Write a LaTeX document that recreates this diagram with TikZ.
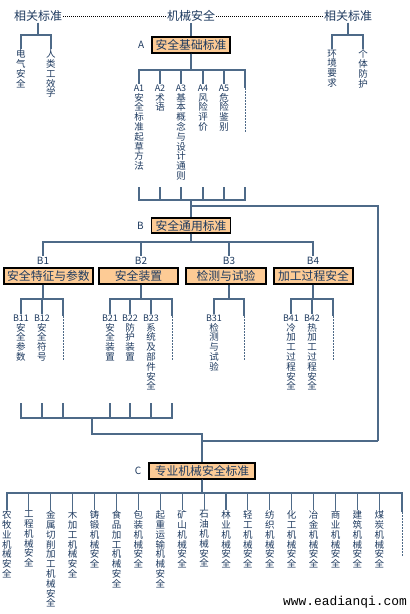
\documentclass[tikz,border=0pt]{standalone}
\usepackage{fontspec}
\setmainfont{Noto Sans CJK SC}
\newfontfamily\urlfont{Liberation Mono}
\usetikzlibrary{positioning}

\definecolor{ink}{HTML}{1E3A5F}
\definecolor{wirecol}{HTML}{4E6A88}
\definecolor{peach}{HTML}{FDCB95}

\ExplSyntaxOn
\NewDocumentCommand\vcol{om}{
  \vbox{
    \baselineskip=9.8pt \lineskiplimit=-10pt \lineskip=0pt
    \IfValueT{#1}{\hbox_to_wd:nn{2em}{\hss\fontsize{9}{9}\selectfont #1\hss}}
    \exp_args:Ne \tl_map_inline:nn {#2} {\hbox_to_wd:nn{2em}{\hss##1\hss}}
  }
}
\ExplSyntaxOff

\begin{document}
\begin{tikzpicture}[x=1pt, y=-1pt]

		\tikzset{
			topname/.style={
					text=ink, inner sep=1pt, font=\fontsize{12}{12}\selectfont
				},
			stdbox/.style={
					draw=black, fill=peach, line width=1.2pt, inner sep=0pt, minimum height=16pt, text=ink, font=\fontsize{11.8}{12}\selectfont
				},
			grouptag/.style={
					text=ink, inner sep=1pt, font=\fontsize{10}{10}\selectfont
				},
			col/.style={
					anchor=north, inner sep=0.5pt, text=ink, font=\fontsize{9.5}{9.8}\selectfont
				},
			link/.style={draw=wirecol, line width=1.1pt},
			dashline/.style={draw=wirecol, line width=1pt, dash pattern=on 1.5pt off 1.5pt},
			dotline/.style={draw=black, line width=1pt, dash pattern=on 1pt off 1pt},
		}

		\fill[white] (0,0) rectangle (410,614);
		\useasboundingbox (0,0) rectangle (410,614);

		\node[topname](relL) at (38,16){相关标准};
		\node[topname](top) at (191,16){机械安全};
		\node[topname](relR) at (348,16){相关标准};

		\draw[dotline] (relL.east)--(top.west);
		\draw[dotline] (top.east)--(relR.west);

		\node[col](elec) at (21,49){\vcol{电气安全}};
		\node[col](ergo) at (51,49){\vcol{人类工效学}};
		\node[col](env) at (332,49){\vcol{环境要求}};
		\node[col](ppe) at (363,49){\vcol{个体防护}};

		\foreach \c in {elec,ergo}
			\draw[link] (relL.south)--(relL.south |- 0,35) -| (\c.north);
		\foreach \c in {env,ppe}
			\draw[link] (relR.south)--(relR.south |- 0,35) -| (\c.north);

		\node[stdbox, minimum width=78pt](boxA) at (191,45){安全基础标准};
		\node[grouptag, left=6pt of boxA](tagA){A};
		\draw[link] (top.south)--(boxA.north);

		\node[col](a1) at (139,84){\vcol[A1]{安全标准起草方法}};
		\node[col](a2) at (160,84){\vcol[A2]{术语}};
		\node[col](a3) at (181,84){\vcol[A3]{基本概念与设计通则}};
		\node[col](a4) at (203,84){\vcol[A4]{风险评价}};
		\node[col](a5) at (224,84){\vcol[A5]{危险鉴别}};
		\coordinate (aend) at (245,88);

		\foreach \c in {a1.north,a2.north,a3.north,a4.north,a5.north,aend}
			\draw[link] (boxA.south)--(boxA.south |- 0,70) -| (\c);
		\draw[dashline] (aend)--++(0,44);

		\node[stdbox, minimum width=79pt, minimum height=15pt](boxB) at (191,225.5){安全通用标准};
		\node[grouptag, left=6pt of boxB](tagB){B};

		\foreach \c in {a1.north,a2.north,a3.north,a4.north,a5.north,aend}
			\draw[link] (\c |- 0,187) |- (boxB.north |- 0,200);
		\draw[link] (boxB.north |- 0,200)--(boxB.north);

		\coordinate (ring) at (378,441);
		\draw[link] (boxB.north |- 0,206) -| (ring);

		\node[grouptag](b1tag) at (43,261){B1};
		\node[grouptag](b2tag) at (141,261){B2};
		\node[grouptag](b3tag) at (229,261){B3};
		\node[grouptag](b4tag) at (313,261){B4};

		\foreach \c in {b1tag,b2tag,b3tag,b4tag}
			\draw[link] (boxB.south)--(boxB.south |- 0,242) -| (\c.north);

		\node[stdbox, minimum width=89pt](b1box) at (48.5,276){安全特征与参数};
		\node[stdbox, minimum width=79pt](b2box) at (138.5,276){安全装置};
		\node[stdbox, minimum width=80pt](b3box) at (226,276){检测与试验};
		\node[stdbox, minimum width=79pt](b4box) at (313.5,276){加工过程安全};

		\node[col](b11) at (21,314){\vcol[B11]{安全参数}};
		\node[col](b12) at (42,314){\vcol[B12]{安全符号}};
		\coordinate (b1end) at (63,316);

		\node[col](b21) at (110,314){\vcol[B21]{安全装置}};
		\node[col](b22) at (130,314){\vcol[B22]{防护装置}};
		\node[col](b23) at (151,314){\vcol[B23]{系统及部件安全}};
		\coordinate (b2end) at (172,316);

		\node[col](b31) at (214,314){\vcol[B31]{检测与试验}};
		\coordinate (b3end) at (244,316);

		\node[col](b41) at (291,314){\vcol[B41]{冷加工过程安全}};
		\node[col](b42) at (312,314){\vcol[B42]{热加工过程安全}};
		\coordinate (b4end) at (333,316);

		\foreach \c in {b11.north,b12.north,b1end}
			\draw[link] (b1box.south -| b1tag)--(b1tag |- 0,299) -| (\c);
		\foreach \c in {b21.north,b22.north,b23.north,b2end}
			\draw[link] (b2box.south -| b2tag)--(b2tag |- 0,299) -| (\c);
		\foreach \c in {b31.north,b3end}
			\draw[link] (b3box.south -| b3tag)--(b3tag |- 0,299) -| (\c);
		\foreach \c in {b41.north,b42.north,b4end}
			\draw[link] (b4box.south -| b4tag)--(b4tag |- 0,299) -| (\c);

		\foreach \c in {b1end,b2end,b3end,b4end}
			\draw[dashline] (\c)--++(0,45);

		\node[stdbox, minimum width=106pt](boxC) at (202,471){专业机械安全标准};
		\node[grouptag, left=6pt of boxC](tagC){C};

		\coordinate (merge) at (92,418);
		\foreach \c in {b11.north,b12.north,b1end,b21.north,b22.north,b23.north,b2end}
			\draw[link] (\c |- 0,403) |- (merge);
		\draw[link] (merge)--++(0,16) -| (boxC.north);
		\draw[link] (ring)--(ring -| boxC.north);

		\foreach \t [count=\i from 0] in {农牧业机械安全, 工程机械安全, 金属切削加工机械安全, 木加工机械安全, 铸锻机械安全, 食品加工机械安全, 包装机械安全, 起重运输机械安全, 矿山机械安全, 石油机械安全, 林业机械安全, 轻工机械安全, 纺织机械安全, 化工机械安全, 冶金机械安全, 商业机械安全, 建筑机械安全, 煤炭机械安全}{
			\node[col](c\i) at (7+21.9*\i,510){\vcol{\t}};
			\draw[link] (boxC.south)--(boxC.south |- 0,493) -| (c\i.north);
		}
		\coordinate (cend) at (402,512);
		\draw[link] (boxC.south)--(boxC.south |- 0,493) -| (cend);
		\draw[dashline] (cend)--++(0,45);

		\node[inner sep=0pt, font=\urlfont\fontsize{12.9}{13}\selectfont](site) at (345,602){www.eadianqi.com};

\end{tikzpicture}
\end{document}
